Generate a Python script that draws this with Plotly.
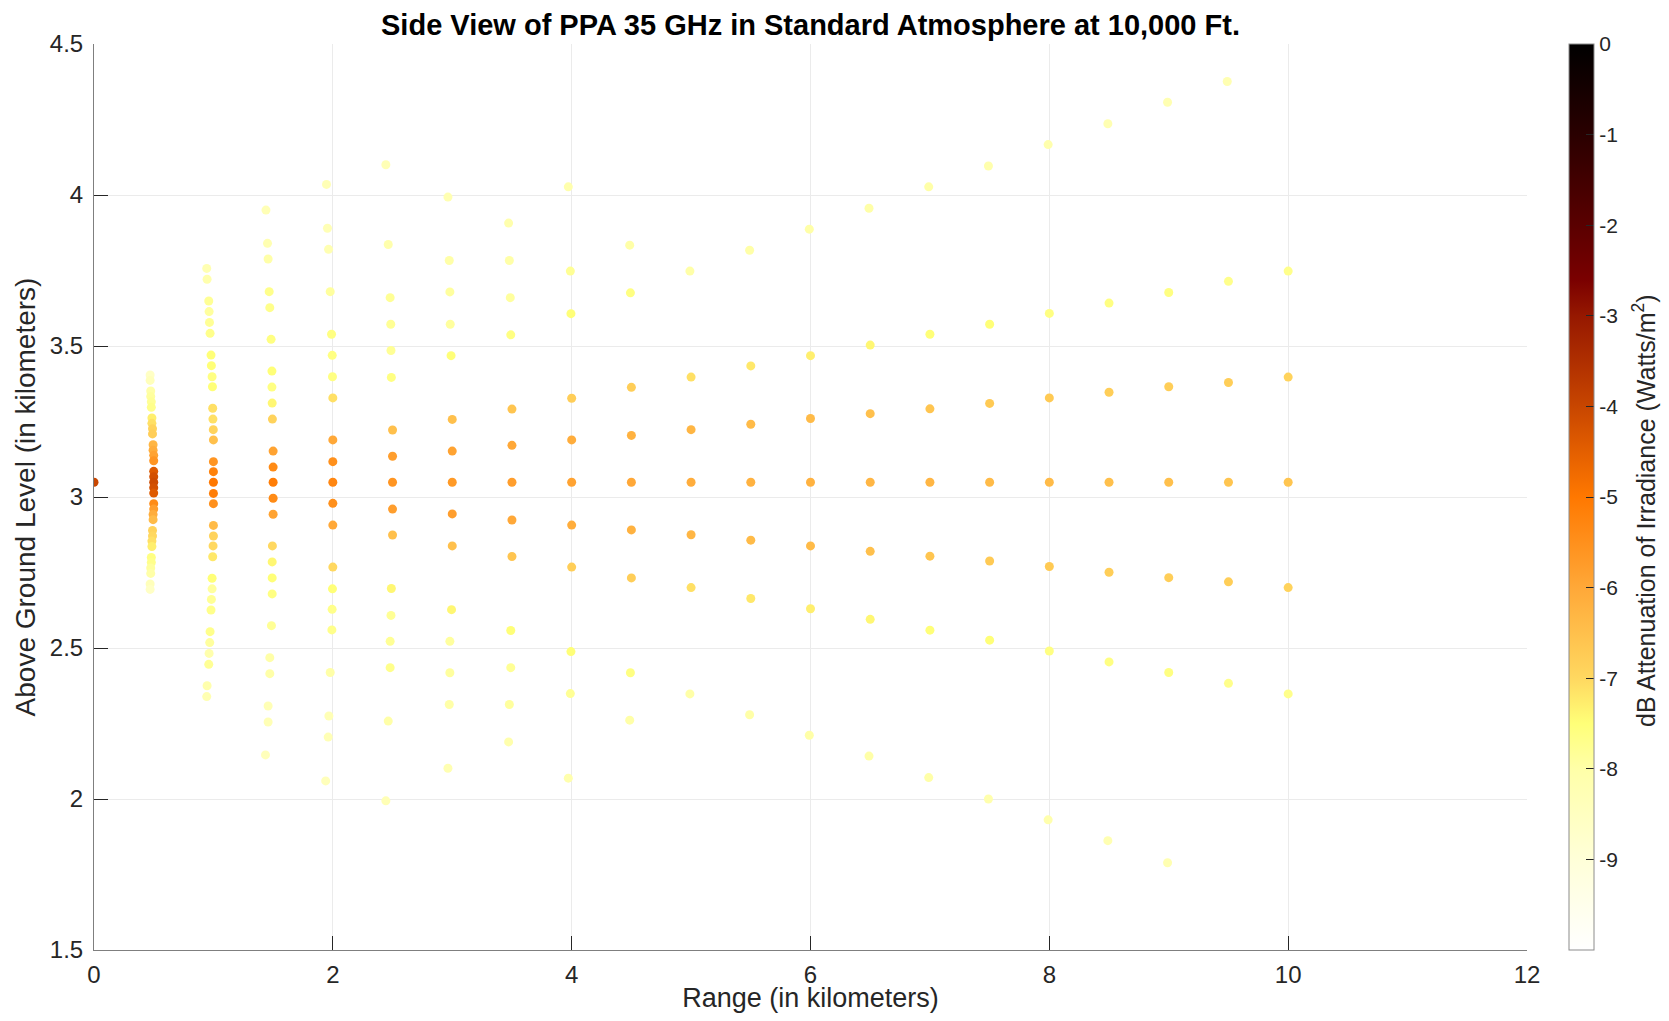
import plotly.graph_objects as go

# ---------------- data ----------------
# column at range 0
x_r0 = [0.0]
alt_r0 = [3.049]
db_r0 = [-4.0]

# column near 0.5 km
x_r05 = [0.470, 0.470, 0.475, 0.475, 0.480, 0.480, 0.485, 0.485, 0.490, 0.490, 0.495,
         0.495, 0.500, 0.500, 0.500, 0.500, 0.500, 0.500, 0.500, 0.500, 0.500, 0.495,
         0.495, 0.490, 0.490, 0.485, 0.485, 0.480, 0.480, 0.475, 0.475, 0.470, 0.470]
alt_r05 = [3.404, 3.386, 3.351, 3.333, 3.315, 3.297, 3.262, 3.244, 3.226, 3.209, 3.173,
           3.155, 3.138, 3.120, 3.085, 3.067, 3.049, 3.031, 3.013, 2.978, 2.960, 2.942,
           2.925, 2.889, 2.871, 2.854, 2.836, 2.800, 2.783, 2.765, 2.747, 2.712, 2.694]
db_r05 = [-8.6, -8.4, -8.0, -7.9, -7.8, -7.7, -7.3, -7.1, -6.9, -6.8, -6.3,
          -6.1, -5.9, -5.6, -4.4, -4.2, -4.1, -4.2, -4.4, -5.4, -5.8, -6.1,
          -6.4, -6.9, -7.0, -7.1, -7.3, -7.6, -7.7, -7.9, -8.0, -8.4, -8.6]

# column near 1 km
x_r1 = [0.944, 0.947, 0.961, 0.964, 0.967, 0.972, 0.980, 0.983, 0.989, 0.992, 0.994,
        0.996, 0.999, 1.000, 1.000, 1.000, 1.000, 1.000, 1.000, 1.000, 1.000, 0.997,
        0.994, 0.989, 0.989, 0.983, 0.980, 0.972, 0.969, 0.964, 0.961, 0.947, 0.944]
alt_r1 = [3.757, 3.721, 3.649, 3.614, 3.578, 3.542, 3.470, 3.435, 3.398, 3.365, 3.294,
          3.258, 3.223, 3.189, 3.117, 3.084, 3.049, 3.012, 2.978, 2.906, 2.871, 2.838,
          2.802, 2.731, 2.696, 2.661, 2.626, 2.554, 2.518, 2.482, 2.446, 2.375, 2.339]
db_r1 = [-8.2, -8.1, -7.8, -7.9, -7.8, -7.7, -7.5, -7.5, -7.6, -7.5, -7.1,
         -7.1, -6.9, -6.5, -5.6, -5.2, -5.0, -5.1, -5.5, -6.4, -6.9, -7.0,
         -7.2, -7.5, -7.9, -7.8, -7.7, -7.7, -7.9, -8.1, -7.8, -8.1, -8.2]

# column near 1.5 km
x_r15 = [1.440, 1.453, 1.458, 1.467, 1.472, 1.483, 1.490, 1.490, 1.492, 1.494, 1.500,
         1.500, 1.500, 1.500, 1.500, 1.494, 1.492, 1.492, 1.492, 1.486, 1.472, 1.472,
         1.458, 1.458, 1.436]
alt_r15 = [3.950, 3.840, 3.788, 3.680, 3.627, 3.522, 3.417, 3.364, 3.311, 3.258, 3.152,
           3.099, 3.049, 2.996, 2.943, 2.838, 2.785, 2.732, 2.679, 2.574, 2.468, 2.415,
           2.308, 2.255, 2.146]
db_r15 = [-8.3, -8.2, -8.0, -7.7, -7.7, -7.6, -7.5, -7.6, -7.4, -6.9, -5.9,
          -5.4, -5.1, -5.4, -5.9, -7.0, -7.4, -7.5, -7.6, -7.8, -8.0, -8.0,
          -8.3, -8.3, -8.4]

# column near 2 km
x_r2 = [1.947, 1.955, 1.964, 1.978, 1.989, 1.995, 1.997, 2.000, 2.000, 2.000, 2.000,
        2.000, 2.000, 2.000, 1.997, 1.994, 1.992, 1.978, 1.967, 1.961, 1.940]
alt_r2 = [4.035, 3.890, 3.820, 3.680, 3.539, 3.469, 3.398, 3.328, 3.189, 3.117, 3.049,
          2.979, 2.907, 2.768, 2.696, 2.628, 2.560, 2.419, 2.275, 2.205, 2.060]
db_r2 = [-8.3, -8.3, -8.2, -7.9, -7.6, -7.6, -7.6, -7.1, -6.0, -5.5, -5.3,
         -5.5, -6.0, -7.0, -7.5, -7.7, -7.7, -8.0, -8.3, -8.3, -8.4]

# column near 2.5 km
x_r25 = [2.444, 2.464, 2.480, 2.485, 2.487, 2.490, 2.500, 2.500, 2.500, 2.500, 2.500,
         2.490, 2.487, 2.480, 2.480, 2.464, 2.444]
alt_r25 = [4.100, 3.836, 3.660, 3.572, 3.485, 3.396, 3.222, 3.135, 3.049, 2.960, 2.874,
           2.697, 2.608, 2.522, 2.435, 2.258, 1.994]
db_r25 = [-8.3, -8.1, -7.8, -7.8, -7.8, -7.6, -6.5, -5.8, -5.6, -5.8, -6.5,
          -7.4, -7.8, -7.8, -7.7, -8.0, -8.3]

# column near 3 km
x_r3 = [2.964, 2.975, 2.980, 2.983, 2.990, 3.000, 3.000, 3.000, 3.000, 3.000, 2.994,
        2.980, 2.980, 2.975, 2.964]
alt_r3 = [3.993, 3.783, 3.679, 3.572, 3.468, 3.257, 3.152, 3.049, 2.944, 2.838, 2.627,
          2.522, 2.418, 2.313, 2.102]
db_r3 = [-8.2, -8.0, -7.9, -7.9, -7.5, -6.5, -5.9, -5.7, -5.8, -6.5, -7.4,
         -7.9, -7.9, -8.0, -8.2]

# column near 3.5 km
x_r35 = [3.472, 3.478, 3.486, 3.490, 3.500, 3.500, 3.500, 3.500, 3.500, 3.490, 3.490,
         3.478, 3.472]
alt_r35 = [3.907, 3.783, 3.660, 3.537, 3.291, 3.171, 3.049, 2.924, 2.803, 2.558, 2.435,
           2.313, 2.189]
db_r35 = [-8.1, -8.0, -7.9, -7.6, -6.6, -6.0, -5.8, -6.0, -6.6, -7.5, -7.8, -7.9, -8.1]

# column near 4 km
x_r4 = [3.972, 3.989, 3.994, 4.000, 4.000, 4.000, 4.000, 4.000, 3.994, 3.989, 3.972]
alt_r4 = [4.027, 3.748, 3.607, 3.327, 3.189, 3.049, 2.907, 2.768, 2.488, 2.349, 2.069]
db_r4 = [-8.1, -7.8, -7.5, -6.8, -6.1, -5.9, -6.1, -6.8, -7.5, -7.8, -8.1]

# column near 4.5 km
x_r45 = [4.486, 4.492, 4.500, 4.500, 4.500, 4.500, 4.500, 4.492, 4.486]
alt_r45 = [3.834, 3.676, 3.363, 3.204, 3.049, 2.891, 2.732, 2.418, 2.261]
db_r45 = [-8.0, -7.6, -6.8, -6.2, -6.0, -6.2, -6.8, -7.6, -8.0]

# columns 5 .. 10 km
x_r5 = [4.99, 5.0, 5.0, 5.0, 5.0, 5.0, 4.99]
alt_r5 = [3.748, 3.397, 3.223, 3.049, 2.875, 2.700, 2.348]
db_r5 = [-8.0, -7.1, -6.3, -6.1, -6.3, -7.1, -8.0]

x_r55 = [5.49, 5.5, 5.5, 5.5, 5.5, 5.5, 5.49]
alt_r55 = [3.817, 3.434, 3.241, 3.049, 2.857, 2.664, 2.279]
db_r55 = [-8.0, -7.2, -6.4, -6.2, -6.4, -7.2, -8.0]

x_r6 = [5.99, 6.0, 6.0, 6.0, 6.0, 6.0, 5.99]
alt_r6 = [3.887, 3.468, 3.260, 3.049, 2.838, 2.630, 2.211]
db_r6 = [-8.0, -7.3, -6.4, -6.2, -6.4, -7.3, -8.0]

x_r65 = [6.49, 6.5, 6.5, 6.5, 6.5, 6.5, 6.49]
alt_r65 = [3.956, 3.503, 3.276, 3.049, 2.820, 2.595, 2.142]
db_r65 = [-8.0, -7.4, -6.5, -6.3, -6.5, -7.4, -8.0]

x_r7 = [6.99, 7.0, 7.0, 7.0, 7.0, 7.0, 6.99]
alt_r7 = [4.027, 3.539, 3.292, 3.049, 2.804, 2.559, 2.071]
db_r7 = [-8.0, -7.5, -6.6, -6.3, -6.6, -7.5, -8.0]

x_r75 = [7.49, 7.5, 7.5, 7.5, 7.5, 7.5, 7.49]
alt_r75 = [4.096, 3.572, 3.310, 3.049, 2.788, 2.526, 2.000]
db_r75 = [-8.1, -7.5, -6.7, -6.4, -6.7, -7.5, -8.1]

x_r8 = [7.99, 8.0, 8.0, 8.0, 8.0, 8.0, 7.99]
alt_r8 = [4.167, 3.608, 3.328, 3.049, 2.770, 2.490, 1.931]
db_r8 = [-8.1, -7.6, -6.7, -6.4, -6.7, -7.6, -8.1]

x_r85 = [8.49, 8.5, 8.5, 8.5, 8.5, 8.5, 8.49]
alt_r85 = [4.236, 3.642, 3.347, 3.049, 2.751, 2.454, 1.862]
db_r85 = [-8.2, -7.6, -6.8, -6.5, -6.8, -7.6, -8.2]

x_r9 = [8.99, 9.0, 9.0, 9.0, 9.0, 9.0, 8.99]
alt_r9 = [4.307, 3.677, 3.365, 3.049, 2.733, 2.419, 1.789]
db_r9 = [-8.2, -7.6, -6.8, -6.5, -6.8, -7.6, -8.2]

x_r95 = [9.49, 9.5, 9.5, 9.5, 9.5, 9.5]
alt_r95 = [4.376, 3.714, 3.379, 3.049, 2.719, 2.383]
db_r95 = [-8.2, -7.7, -6.8, -6.6, -6.8, -7.7]

x_r10 = [10.0, 10.0, 10.0, 10.0, 10.0]
alt_r10 = [3.748, 3.397, 3.049, 2.700, 2.348]
db_r10 = [-7.7, -6.9, -6.6, -6.9, -7.7]

# colour bar ticks
cbar_ticks = [0, -1, -2, -3, -4, -5, -6, -7, -8, -9]
cbar_ticktext = ["0", "-1", "-2", "-3", "-4", "-5", "-6", "-7", "-8", "-9"]
x_ticks = [0, 2, 4, 6, 8, 10, 12]
y_ticks = [1.5, 2, 2.5, 3, 3.5, 4, 4.5]
y_ticktext = ["1.5", "2", "2.5", "3", "3.5", "4", "4.5"]

# ---------------- assemble ----------------
xs, ys, vs = [], [], []
for xx, yy, vv in [
    (x_r0, alt_r0, db_r0), (x_r05, alt_r05, db_r05), (x_r1, alt_r1, db_r1),
    (x_r15, alt_r15, db_r15), (x_r2, alt_r2, db_r2), (x_r25, alt_r25, db_r25),
    (x_r3, alt_r3, db_r3), (x_r35, alt_r35, db_r35), (x_r4, alt_r4, db_r4),
    (x_r45, alt_r45, db_r45), (x_r5, alt_r5, db_r5), (x_r55, alt_r55, db_r55),
    (x_r6, alt_r6, db_r6), (x_r65, alt_r65, db_r65), (x_r7, alt_r7, db_r7),
    (x_r75, alt_r75, db_r75), (x_r8, alt_r8, db_r8), (x_r85, alt_r85, db_r85),
    (x_r9, alt_r9, db_r9), (x_r95, alt_r95, db_r95), (x_r10, alt_r10, db_r10),
]:
    xs += xx
    ys += yy
    vs += vv

colorscale = [
    [0.00, "#FFFFFF"],
    [0.10, "#FFFFD8"],
    [0.20, "#FFFFA8"],
    [0.25, "#FFFF78"],
    [0.30, "#FFD860"],
    [0.40, "#FFA838"],
    [0.50, "#FF7800"],
    [0.60, "#C84600"],
    [0.70, "#961800"],
    [0.74, "#7A0000"],
    [0.80, "#5A0000"],
    [0.90, "#2A0000"],
    [1.00, "#000000"],
]

FONT = "Liberation Sans, Arial, Helvetica, sans-serif"
DARK = "#262626"
AXLINE = "#7f7f7f"

# page body has an 8px margin, so the figure is sized to fit inside the window
W, H = 1653, 1005
ML, MR, MT, MB = 86, 134, 36, 63
PW, PH = W - ML - MR, H - MT - MB

fig = go.Figure()
fig.add_trace(go.Scatter(
    x=xs, y=ys, mode="markers",
    marker=dict(
        size=9, color=vs, colorscale=colorscale, cmin=-10, cmax=0,
        line=dict(width=0),
        colorbar=dict(
            x=1.0293, xanchor="left", xpad=0, y=0.5, yanchor="middle",
            len=1, lenmode="fraction", ypad=0, thickness=25,
            outlinecolor="#8c8c8c", outlinewidth=1,
            tickvals=cbar_ticks, ticktext=cbar_ticktext,
            ticks="inside", ticklen=8, tickcolor=DARK,
            tickfont=dict(size=21, color=DARK, family=FONT),
        ),
    ),
    showlegend=False,
    hoverinfo="x+y",
))

fig.update_layout(
    width=W, height=H,
    margin=dict(l=ML, r=MR, t=MT, b=MB),
    paper_bgcolor="white", plot_bgcolor="white",
    font=dict(family=FONT, color=DARK),
    title=dict(
        text="<b>Side View of PPA 35 GHz in Standard Atmosphere at 10,000 Ft.</b>",
        x=0.5, xref="paper", xanchor="center",
        y=1 - 16.5 / H, yref="container", yanchor="middle",
        font=dict(size=29, color="black", family=FONT),
    ),
    xaxis=dict(
        range=[0, 12], tickvals=x_ticks, showgrid=True, gridcolor="#ebebeb",
        zeroline=False, showline=True, linecolor=AXLINE, linewidth=1,
        ticks="inside", ticklen=14, tickcolor=DARK,
        ticklabelstandoff=3, automargin=False,
        tickfont=dict(size=24, color=DARK, family=FONT),
        title=dict(text="Range (in kilometers)",
                   font=dict(size=27, color=DARK, family=FONT)),
    ),
    yaxis=dict(
        range=[1.5, 4.5], tickvals=y_ticks, ticktext=y_ticktext,
        showgrid=True, gridcolor="#ebebeb",
        zeroline=False, showline=True, linecolor=AXLINE, linewidth=1,
        ticks="inside", ticklen=14, tickcolor=DARK,
        ticklabelstandoff=5, automargin=False,
        tickfont=dict(size=24, color=DARK, family=FONT),
        title=dict(text="Above Ground Level (in kilometers)", standoff=6,
                   font=dict(size=28, color=DARK, family=FONT)),
    ),
    annotations=[dict(
        text="dB Attenuation of Irradiance (Watts/m<sup>2</sup>)",
        textangle=-90, showarrow=False,
        xref="paper", yref="paper",
        x=(1636 - ML) / PW, y=1 - (503 - MT) / PH,
        xanchor="center", yanchor="middle",
        font=dict(size=25, color=DARK, family=FONT),
    )],
)

fig.write_html("out.html")
